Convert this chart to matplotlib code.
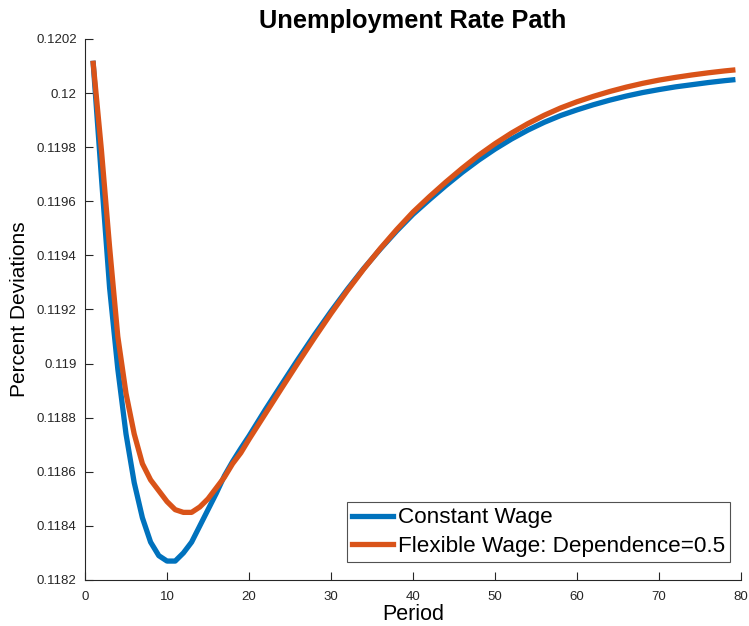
import numpy as np
import matplotlib
matplotlib.use("Agg")
import matplotlib.pyplot as plt

plt.rcParams['font.family'] = ['Liberation Sans', 'DejaVu Sans']

periods = [1, 2, 3, 4, 5, 6, 7, 8, 9, 10, 11, 12, 13, 14, 15, 16, 17, 18, 19, 20,
           22, 24, 26, 28, 30, 32, 34, 36, 38, 40, 42, 44, 46, 48, 50, 52, 54, 56,
           58, 60, 62, 64, 66, 68, 70, 72, 74, 76, 78, 79]

constant_wage = [0.12011, 0.11969, 0.11928, 0.11898, 0.11874, 0.11856, 0.11843, 0.11834,
                 0.11829, 0.11827, 0.11827, 0.11830, 0.11834, 0.11840, 0.11846, 0.11852,
                 0.118585, 0.118638, 0.118686, 0.118732,
                 0.11883, 0.118924, 0.119017, 0.119107, 0.119193, 0.119275, 0.119352, 0.119423,
                 0.11949, 0.119552, 0.119606, 0.119658, 0.119707, 0.119752, 0.119793, 0.11983,
                 0.119863, 0.119892, 0.119917, 0.119938, 0.119957, 0.119974, 0.119989, 0.120002,
                 0.120013, 0.120023, 0.120031, 0.120039, 0.120046, 0.120049]

flexible_wage = [0.12011, 0.11979, 0.11943, 0.11910, 0.11889, 0.11874, 0.11863, 0.11857,
                 0.11853, 0.11849, 0.11846, 0.11845, 0.11845, 0.11847, 0.11850, 0.11854,
                 0.11858, 0.11863, 0.11867, 0.11872,
                 0.118815, 0.11891, 0.119004, 0.119096, 0.119185, 0.11927, 0.11935, 0.119425,
                 0.119495, 0.11956, 0.119617, 0.119671, 0.119722, 0.11977, 0.119813, 0.119852,
                 0.119887, 0.119918, 0.119945, 0.119968, 0.119988, 0.120006, 0.120022, 0.120036,
                 0.120048, 0.120058, 0.120067, 0.120075, 0.120082, 0.120085]

labels = ["Constant Wage", "Flexible Wage: Dependence=0.5"]
colors = ["#0072BD", "#D95319"]

yticks = np.round(np.arange(0.1182, 0.12021, 0.0002), 4)
ytick_labels = ["0.1182", "0.1184", "0.1186", "0.1188", "0.119", "0.1192",
                "0.1194", "0.1196", "0.1198", "0.12", "0.1202"]

fig = plt.figure(figsize=(7.49, 6.26), dpi=100)
ax = fig.add_axes([85 / 749, 46 / 626, 656 / 749, 541 / 626])

ax.plot(periods, constant_wage, color=colors[0], lw=3.8, label=labels[0])
ax.plot(periods, flexible_wage, color=colors[1], lw=3.8, label=labels[1])

ax.set_xlim(0, 80)
ax.set_ylim(0.1182, 0.1202)
ax.set_xticks(range(0, 81, 10))
ax.set_yticks(yticks)
ax.set_yticklabels(ytick_labels)

for s in ['top', 'right']:
    ax.spines[s].set_visible(False)
for s in ['left', 'bottom']:
    ax.spines[s].set_color('#262626')
    ax.spines[s].set_linewidth(0.8)
ax.tick_params(direction='in', length=6, width=0.8, colors='#262626',
               labelsize=9.5)
ax.tick_params(axis='x', pad=8)
ax.tick_params(axis='y', pad=6)

ax.set_title("Unemployment Rate Path", fontsize=18.3, fontweight='bold', pad=8)
ax.set_ylabel("Percent Deviations", fontsize=15, labelpad=5)
ax.set_xlabel("Period", fontsize=15.5, labelpad=0.5)

leg = ax.legend(loc='lower right', bbox_to_anchor=(0.9832, 0.0333),
                fontsize=16.2, frameon=True, fancybox=False,
                edgecolor='#262626', handlelength=1.85, handletextpad=0.2,
                borderpad=0.22, labelspacing=0.34, borderaxespad=0.0)
leg.get_frame().set_linewidth(0.8)

fig.savefig("out.png", dpi=100)
